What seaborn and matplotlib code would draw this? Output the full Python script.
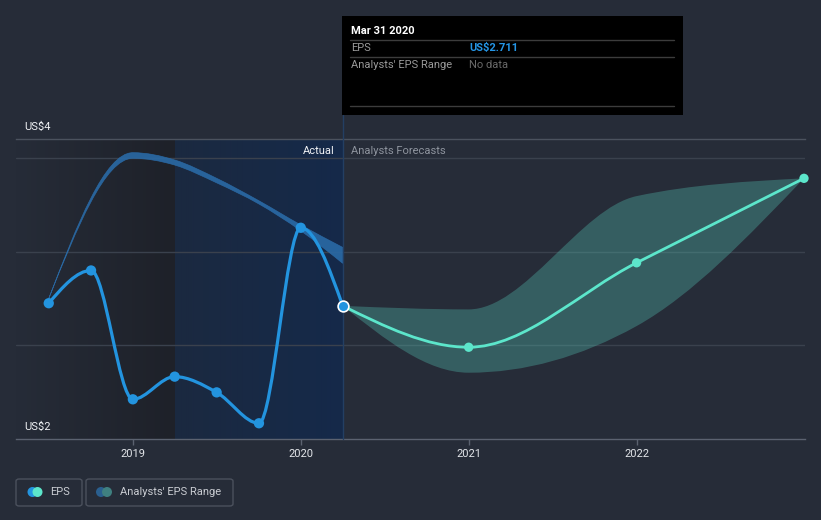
import numpy as np
import matplotlib
matplotlib.use("Agg")
import matplotlib.pyplot as plt
from matplotlib.path import Path
from matplotlib.patches import PathPatch, Rectangle, FancyBboxPatch, Ellipse
from matplotlib.lines import Line2D
from matplotlib.colors import to_rgb
import seaborn as sns
import pandas as pd

# ---------------- data ----------------
eps_dates = [2018.496, 2018.748, 2018.997, 2019.246, 2019.496, 2019.748, 2019.997, 2020.247]
eps_values = [2.725, 2.90, 2.212, 2.333, 2.249, 2.084, 3.128, 2.711]

past_range_dates = [2018.496, 2018.997, 2019.246, 2019.496, 2019.748, 2019.997, 2020.247]
past_range_high = [2.75, 3.529, 3.490, 3.392, 3.272, 3.143, 3.023]
past_range_low = [2.75, 3.499, 3.463, 3.368, 3.255, 3.112, 2.938]

fc_dates = [2020.247, 2020.997, 2021.997, 2022.994]
fc_eps = [2.711, 2.49, 2.941, 3.392]
fc_high = [2.711, 2.692, 3.297, 3.392]
fc_low = [2.711, 2.354, 2.603, 3.392]

year_ticks = [2019, 2020, 2021, 2022]
year_labels = ["2019", "2020", "2021", "2022"]
grid_values = [2.5, 3.0, 3.5]

# ---------------- style ----------------
BG = "#262c38"
EPS_BLUE = "#2394df"
AQUA = "#5ce6cb"
W, H = 821, 520

sns.set_theme(style="dark", rc={"axes.facecolor": BG, "figure.facecolor": BG})
plt.rcParams["font.family"] = ["Roboto", "DejaVu Sans"]


def mono_tangents(x, y):
    x = np.asarray(x, float); y = np.asarray(y, float)
    n = len(x)
    h = np.diff(x); s = np.diff(y) / h
    t = np.zeros(n)
    if n == 2:
        t[:] = s[0]
        return t
    for i in range(1, n - 1):
        p = (s[i - 1] * h[i] + s[i] * h[i - 1]) / (h[i - 1] + h[i])
        t[i] = (np.sign(s[i - 1]) + np.sign(s[i])) * min(abs(s[i - 1]), abs(s[i]), 0.5 * abs(p))
    t[0] = (3 * s[0] - t[1]) / 2
    t[-1] = (3 * s[-1] - t[-2]) / 2
    return t


def bezier_verts(x, y):
    x = np.asarray(x, float); y = np.asarray(y, float)
    t = mono_tangents(x, y)
    verts = [(x[0], y[0])]
    for i in range(len(x) - 1):
        h = x[i + 1] - x[i]
        verts.append((x[i] + h / 3, y[i] + h * t[i] / 3))
        verts.append((x[i + 1] - h / 3, y[i + 1] - h * t[i + 1] / 3))
        verts.append((x[i + 1], y[i + 1]))
    return verts


def curve_path(x, y):
    v = bezier_verts(x, y)
    codes = [Path.MOVETO] + [Path.CURVE4] * (len(v) - 1)
    return Path(v, codes)


def band_path(x, lo, hi):
    up = bezier_verts(x, hi)
    dn = bezier_verts(x, lo)[::-1]
    verts = up + dn + [up[0]]
    codes = ([Path.MOVETO] + [Path.CURVE4] * (len(up) - 1) + [Path.LINETO]
             + [Path.CURVE4] * (len(dn) - 1) + [Path.CLOSEPOLY])
    return Path(verts, codes)


def hgrad(c0, c1, n=400):
    a = np.array(to_rgb(c0)); b = np.array(to_rgb(c1))
    f = np.linspace(0, 1, n)[:, None]
    return (a * (1 - f) + b * f)[None, :, :]


fig = plt.figure(figsize=(W / 100, H / 100), dpi=100, facecolor=BG)
ax = fig.add_axes([16 / W, (H - 439) / H, 789 / W, 300 / H])
ax.set_facecolor(BG)
x0, x1 = 2018.301, 2023.0
y0, y1 = 2.0, 3.602

# shaded regions (horizontal gradients)
ax.imshow(hgrad(BG, "#1e2129"), extent=[x0, eps_dates[3], y0, y1], aspect="auto",
          zorder=0, interpolation="nearest")
ax.imshow(hgrad("#1b2940", "#15294a"), extent=[eps_dates[3], eps_dates[-1], y0, y1],
          aspect="auto", zorder=0, interpolation="nearest")
ax.set_xlim(x0, x1)
ax.set_ylim(y0, y1)

# grid
for g in grid_values:
    ax.axhline(g, color="#3a414d", lw=1, zorder=1)

# bands
ax.add_patch(PathPatch(band_path(past_range_dates, past_range_low, past_range_high),
                       facecolor="#2a6aa6", edgecolor="#2a6aa6", lw=0.5, alpha=0.9, zorder=2))
ax.add_patch(PathPatch(band_path(fc_dates, fc_low, fc_high),
                       facecolor="#56c5b6", edgecolor="none", alpha=0.33, zorder=2))

# lines
ax.add_patch(PathPatch(curve_path(eps_dates, eps_values), facecolor="none",
                       edgecolor=EPS_BLUE, lw=2.3, zorder=4, capstyle="round"))
ax.add_patch(PathPatch(curve_path(fc_dates, fc_eps), facecolor="none",
                       edgecolor=AQUA, lw=2.0, zorder=4, capstyle="round"))

# markers
eps_df = pd.DataFrame({"date": eps_dates[:-1], "eps": eps_values[:-1]})
fc_df = pd.DataFrame({"date": fc_dates[1:], "eps": fc_eps[1:]})
sns.scatterplot(data=eps_df, x="date", y="eps", ax=ax, color=EPS_BLUE, s=55,
                edgecolor="none", zorder=5, clip_on=False)
sns.scatterplot(data=fc_df, x="date", y="eps", ax=ax, color=AQUA, s=45,
                edgecolor="none", zorder=5, clip_on=False)
sns.scatterplot(x=[eps_dates[-1]], y=[eps_values[-1]], ax=ax, color=EPS_BLUE, s=60,
                edgecolor="white", linewidth=1.2, zorder=6, clip_on=False)

# hover line
ax.plot([eps_dates[-1], eps_dates[-1]], [0, (439 - 115) / 300], color="#233f63", lw=1,
        transform=ax.get_xaxis_transform(), clip_on=False, zorder=3)

# axes styling
ax.set_xlabel(""); ax.set_ylabel("")
ax.set_xticks(year_ticks)
ax.set_xticklabels(year_labels)
ax.set_yticks([])
ax.tick_params(axis="x", length=4, width=1, color="#5b6270", labelcolor="#e3e6ea",
               labelsize=8, pad=3, bottom=True)
for side in ["left", "right"]:
    ax.spines[side].set_visible(False)
ax.spines["bottom"].set_color("#5b6270")
ax.spines["bottom"].set_linewidth(1)
ax.spines["top"].set_color("#4b525e")
ax.spines["top"].set_linewidth(1)
ax.spines["top"].set_visible(True)
ax.spines["bottom"].set_visible(True)


def ftext(px, py, s, **kw):
    fig.text(px / W, 1 - py / H, s, **kw)


ftext(24, 127, "US$4", color="#f0f2f5", fontsize=8, va="center", ha="left")
ftext(24, 427, "US$2", color="#f0f2f5", fontsize=8, va="center", ha="left")
ftext(335, 151, "Actual", color="#f0f2f5", fontsize=8, va="center", ha="right")
ftext(351, 151, "Analysts Forecasts", color="#8e949e", fontsize=8, va="center", ha="left")

# tooltip
fig.add_artist(Rectangle((342 / W, 1 - 115 / H), 341 / W, 99 / H, transform=fig.transFigure,
                         facecolor="black", edgecolor="none", zorder=10))
for ly in [40, 57, 106]:
    fig.add_artist(Line2D([350 / W, 674 / W], [1 - ly / H, 1 - ly / H], transform=fig.transFigure,
                          color="#3c3c3c", lw=1, zorder=11))
ftext(351, 31, "Mar 31 2020", color="white", fontsize=8, fontweight="bold", va="center", zorder=12)
ftext(351, 48, "EPS", color="#9a9a9a", fontsize=8, va="center", zorder=12)
ftext(469, 48, "US$2.711", color="#2596e6", fontsize=8, fontweight="bold", va="center", zorder=12)
ftext(351, 65, "Analysts' EPS Range", color="#9a9a9a", fontsize=8, va="center", zorder=12)
ftext(469, 65, "No data", color="#6a6a6a", fontsize=8, va="center", zorder=12)

# legend
for bx, bw in [(16, 66), (86, 147)]:
    fig.add_artist(FancyBboxPatch((bx / W, 1 - 506 / H), bw / W, 27 / H,
                                  boxstyle="round,pad=0,rounding_size=0.004",
                                  transform=fig.transFigure, facecolor="none",
                                  edgecolor="#4b515d", lw=1))
for cx, col in [(32.5, EPS_BLUE), (37.5, AQUA), (101, "#2a5f8f"), (107, "#3f8080")]:
    fig.add_artist(Ellipse((cx / W, 1 - 492 / H), 10 / W, 10 / H, transform=fig.transFigure,
                           facecolor=col, edgecolor="none"))
ftext(50, 492, "EPS", color="#c9ccd2", fontsize=8, va="center")
ftext(120, 492, "Analysts' EPS Range", color="#c9ccd2", fontsize=8, va="center")

fig.savefig("out.png", dpi=100, facecolor=BG)
